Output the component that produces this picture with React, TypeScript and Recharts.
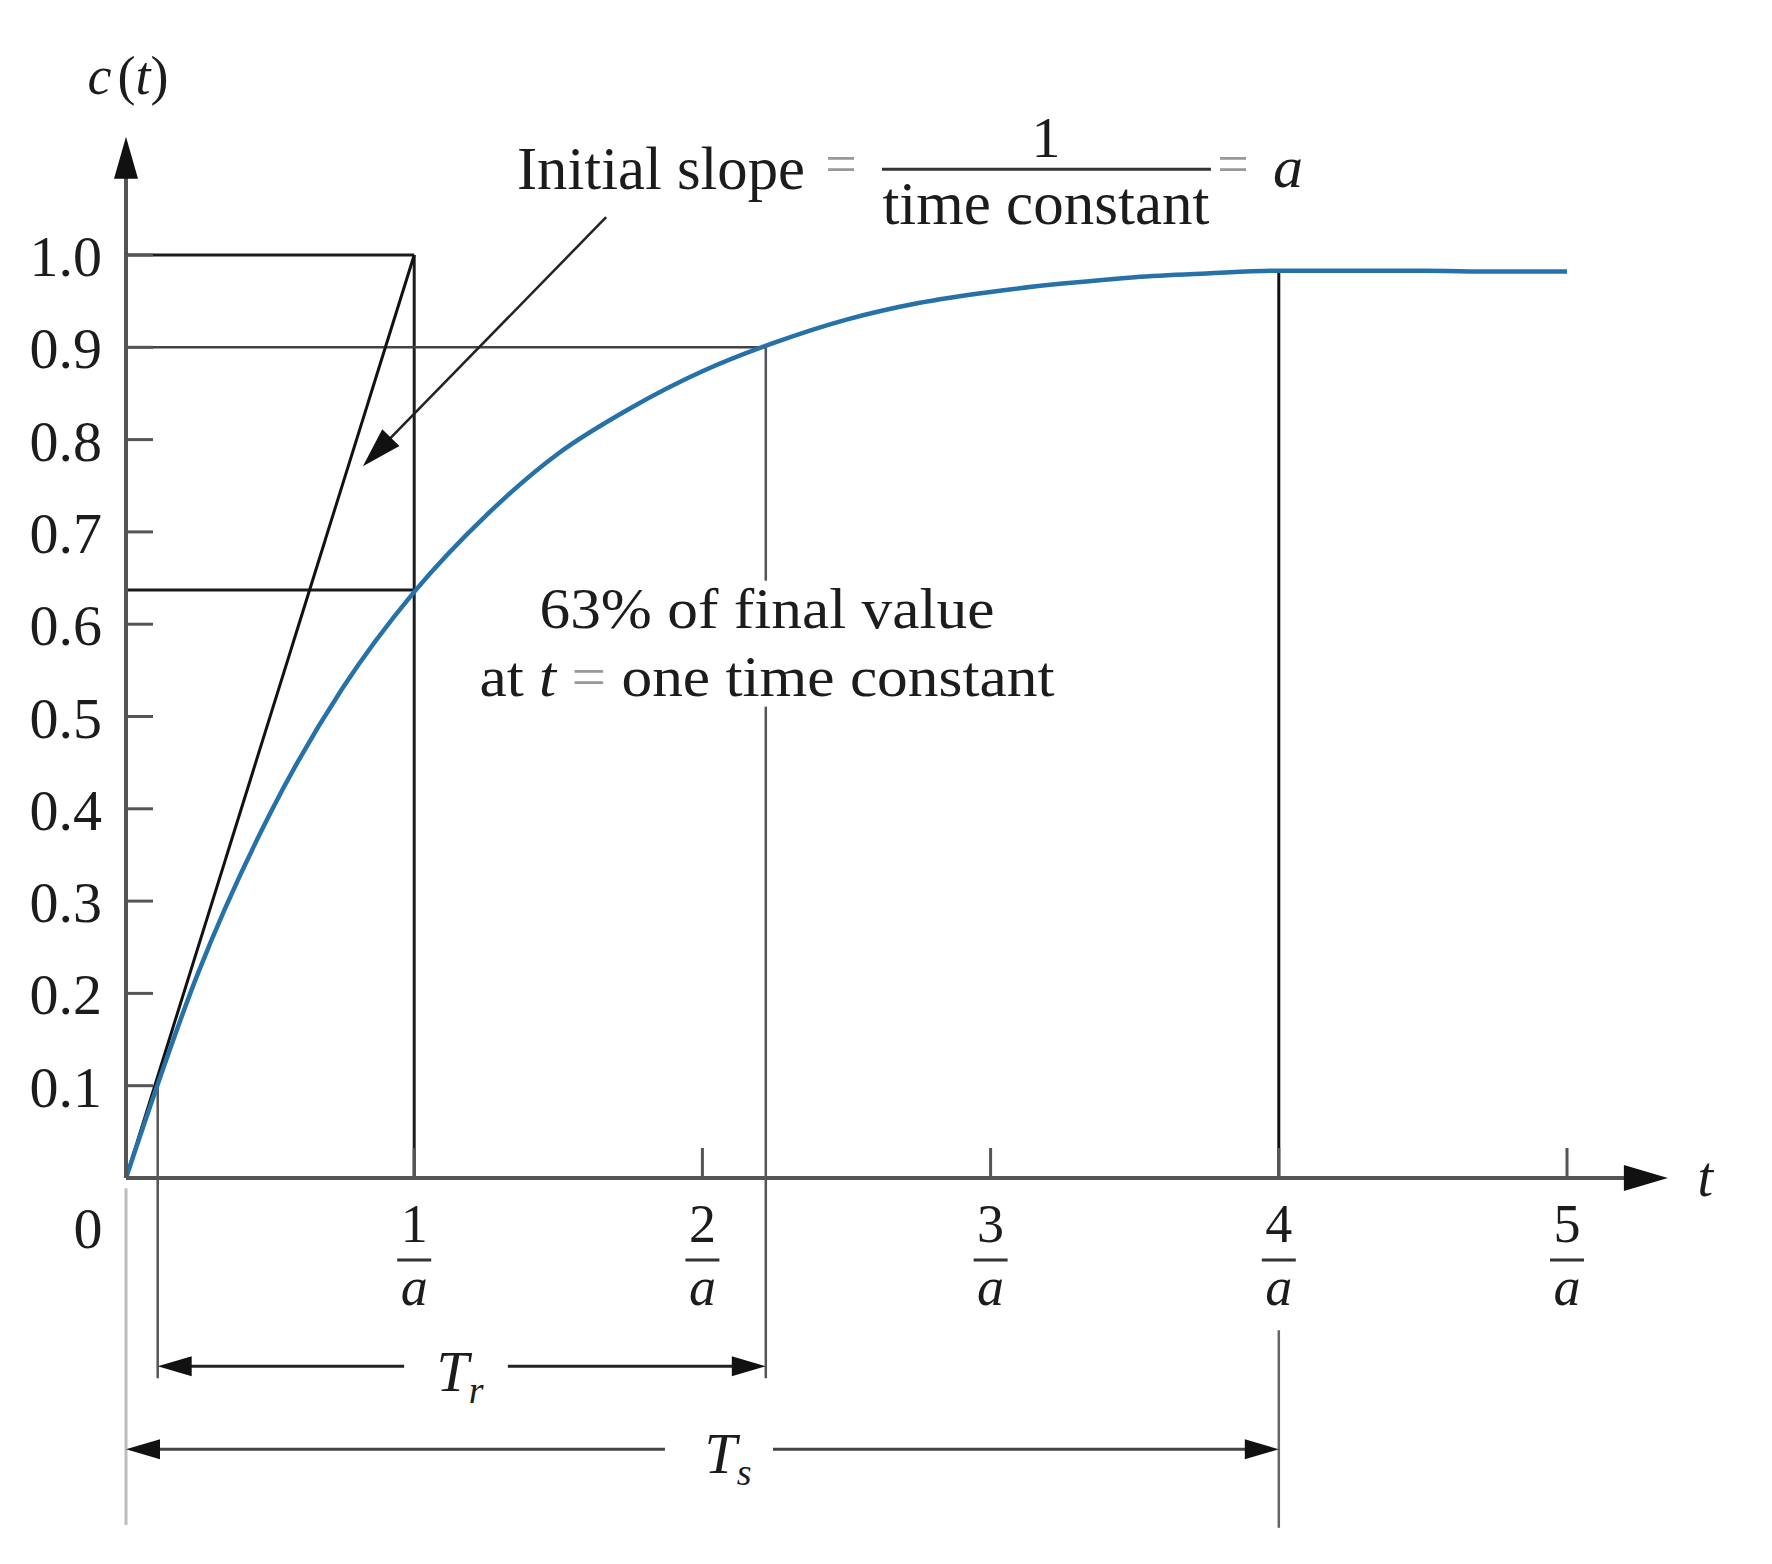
import React from 'react';
import { ComposedChart, Line, XAxis, YAxis, ReferenceLine, ReferenceDot } from 'recharts';

// step response c(t) (t in units of 1/a)
const timeSteps = [0, 0.25, 0.5, 0.75, 1, 1.25, 1.5, 1.75, 2, 2.25, 2.5, 2.75, 3, 3.25, 3.5, 3.75, 4, 4.25, 4.5, 4.75, 5];
const responseValues = [0, 0.222, 0.395, 0.53, 0.635, 0.718, 0.785, 0.834, 0.874, 0.905, 0.93, 0.948, 0.96, 0.969, 0.976, 0.98, 0.983, 0.983, 0.983, 0.982, 0.982];

const yTickValues = [0.1, 0.2, 0.3, 0.4, 0.5, 0.6, 0.7, 0.8, 0.9, 1.0];
const xTickNumerators = [1, 2, 3, 4, 5];

// marked instants and levels
const riseStart = 0.11;
const riseEnd = 2.22;
const timeConstant = 1;
const settleTime = 4;
const level63 = 0.637;
const level90 = 0.9;
const level100 = 1.0;
const settleLevel = 0.983;

const curveData = timeSteps.map((t, i) => ({ t, c: responseValues[i] }));

const SERIF = '"Liberation Serif", "DejaVu Serif", serif';
const INK = '#1c1c1c';
const AXIS = '#555';

type ArrowOpts = { start?: boolean; end?: boolean; len: number; half: number; color: string; width: number };

const arrowLine = ({ start, end, len, half, color, width }: ArrowOpts) => (p: any) => {
  const { x1, y1, x2, y2 } = p;
  const dx = x2 - x1;
  const dy = y2 - y1;
  const L = Math.hypot(dx, dy) || 1;
  const ux = dx / L;
  const uy = dy / L;
  const head = (tx: number, ty: number, dir: number) => {
    const bx = tx - dir * ux * len;
    const by = ty - dir * uy * len;
    return `${tx},${ty} ${bx - uy * half},${by + ux * half} ${bx + uy * half},${by - ux * half}`;
  };
  const sx = start ? x1 + ux * len * 0.6 : x1;
  const sy = start ? y1 + uy * len * 0.6 : y1;
  const ex = end ? x2 - ux * len * 0.6 : x2;
  const ey = end ? y2 - uy * len * 0.6 : y2;
  return (
    <g>
      <line x1={sx} y1={sy} x2={ex} y2={ey} stroke={color} strokeWidth={width} />
      {start && <polygon points={head(x1, y1, -1)} fill="#111" />}
      {end && <polygon points={head(x2, y2, 1)} fill="#111" />}
    </g>
  );
};

const plainLine = (color: string, width: number) => (p: any) => (
  <line x1={p.x1} y1={p.y1} x2={p.x2} y2={p.y2} stroke={color} strokeWidth={width} />
);

const note = (render: (cx: number, cy: number) => React.ReactNode) => (p: any) => <g>{render(p.cx, p.cy)}</g>;

// tick label drawn as a fraction  n / a
const XFractionTick = (p: any) => {
  const { x, y, payload } = p;
  return (
    <g fontFamily={SERIF} fill={INK}>
      <line x1={x} y1={y} x2={x} y2={y - 30} stroke={AXIS} strokeWidth={3} />
      <line x1={x - 17} x2={x + 17} y1={y + 82} y2={y + 82} stroke="#333" strokeWidth={3} />
      <text x={x} y={y + 64} textAnchor="middle" fontSize={54}>{payload.value}</text>
      <text x={x} y={y + 127} textAnchor="middle" fontSize={54} fontStyle="italic">a</text>
    </g>
  );
};

const YValueTick = (p: any) => {
  const { x, y, payload } = p;
  return (
    <g fontFamily={SERIF} fill={INK}>
      <line x1={x} y1={y} x2={x + 27} y2={y} stroke={AXIS} strokeWidth={3} />
      <text x={x - 24} y={y + 21} textAnchor="end" fontSize={58}>{Number(payload.value).toFixed(1)}</text>
    </g>
  );
};

export default function App() {
  return (
    <div style={{ position: 'absolute', left: 0, top: 0, background: '#fff' }}>
      <ComposedChart
        width={1772}
        height={1564}
        data={curveData}
        margin={{ top: 255, right: 205, bottom: 236, left: 26 }}
      >
        <XAxis
          dataKey="t"
          type="number"
          domain={[0, 5]}
          ticks={xTickNumerators}
          interval={0}
          height={150}
          tickSize={0}
          tickMargin={0}
          tick={<XFractionTick />}
          axisLine={{ stroke: AXIS, strokeWidth: 4 }}
        />
        <YAxis
          type="number"
          domain={[0, 1]}
          ticks={yTickValues}
          interval={0}
          width={100}
          tickSize={0}
          tickMargin={0}
          tick={<YValueTick />}
          axisLine={{ stroke: AXIS, strokeWidth: 4 }}
        />

        {/* axis extensions with arrow heads */}
        <ReferenceLine segment={[{ x: 0, y: 1 }, { x: 0, y: 1.128 }]} ifOverflow="visible"
          shape={arrowLine({ end: true, len: 42, half: 12, color: AXIS, width: 4 })} />
        <ReferenceLine segment={[{ x: 5, y: 0 }, { x: 5.35, y: 0 }]} ifOverflow="visible"
          shape={arrowLine({ end: true, len: 44, half: 13, color: AXIS, width: 4 })} />
        <ReferenceLine segment={[{ x: 0, y: -0.011 }, { x: 0, y: -0.376 }]} ifOverflow="visible"
          shape={plainLine('#bdbdbd', 3)} />

        {/* guide lines */}
        <ReferenceLine segment={[{ x: 0, y: level100 }, { x: timeConstant, y: level100 }]} ifOverflow="visible" shape={plainLine(INK, 3)} />
        <ReferenceLine segment={[{ x: timeConstant, y: level100 }, { x: timeConstant, y: 0 }]} ifOverflow="visible" shape={plainLine(INK, 3)} />
        <ReferenceLine segment={[{ x: 0, y: level63 }, { x: timeConstant, y: level63 }]} ifOverflow="visible" shape={plainLine(INK, 3)} />
        <ReferenceLine segment={[{ x: 0, y: level90 }, { x: riseEnd, y: level90 }]} ifOverflow="visible" shape={plainLine('#444', 2.5)} />
        <ReferenceLine segment={[{ x: riseEnd, y: level90 }, { x: riseEnd, y: -0.217 }]} ifOverflow="visible" shape={plainLine('#555', 2.5)} />
        <ReferenceLine segment={[{ x: riseStart, y: 0.1 }, { x: riseStart, y: -0.217 }]} ifOverflow="visible" shape={plainLine('#555', 2.5)} />
        <ReferenceLine segment={[{ x: settleTime, y: settleLevel }, { x: settleTime, y: 0 }]} ifOverflow="visible" shape={plainLine('#111', 3)} />
        <ReferenceLine segment={[{ x: settleTime, y: -0.165 }, { x: settleTime, y: -0.379 }]} ifOverflow="visible" shape={plainLine('#666', 2.5)} />

        {/* initial slope tangent */}
        <ReferenceLine segment={[{ x: 0, y: 0 }, { x: timeConstant, y: level100 }]} ifOverflow="visible" shape={plainLine('#111', 3)} />
        <ReferenceLine segment={[{ x: 1.666, y: 1.041 }, { x: 0.822, y: 0.771 }]} ifOverflow="visible"
          shape={arrowLine({ end: true, len: 40, half: 12, color: '#222', width: 2.5 })} />

        {/* Tr and Ts dimension arrows */}
        <ReferenceLine segment={[{ x: riseStart, y: -0.204 }, { x: 0.965, y: -0.204 }]} ifOverflow="visible"
          shape={arrowLine({ start: true, len: 34, half: 10, color: '#222', width: 3 })} />
        <ReferenceLine segment={[{ x: 1.325, y: -0.204 }, { x: riseEnd, y: -0.204 }]} ifOverflow="visible"
          shape={arrowLine({ end: true, len: 34, half: 10, color: '#222', width: 3 })} />
        <ReferenceLine segment={[{ x: 0, y: -0.294 }, { x: 1.87, y: -0.294 }]} ifOverflow="visible"
          shape={arrowLine({ start: true, len: 34, half: 10, color: '#444', width: 3 })} />
        <ReferenceLine segment={[{ x: 2.245, y: -0.294 }, { x: settleTime, y: -0.294 }]} ifOverflow="visible"
          shape={arrowLine({ end: true, len: 34, half: 10, color: '#444', width: 3 })} />

        <Line
          dataKey="c"
          type="monotone"
          stroke="#2671a8"
          strokeWidth={4.5}
          dot={false}
          activeDot={false}
          isAnimationActive={false}
        />

        {/* text annotations */}
        <ReferenceDot x={0} y={1.194} r={1} ifOverflow="visible" shape={note((cx, cy) => (
          <text x={cx + 2} y={cy + 18} textAnchor="middle" fontFamily={SERIF} fontSize={54} fill={INK}>
            <tspan fontStyle="italic">c</tspan>
            <tspan dx={6}>(</tspan>
            <tspan fontStyle="italic">t</tspan>
            <tspan>)</tspan>
          </text>
        ))} />
        <ReferenceDot x={-0.132} y={-0.053} r={1} ifOverflow="visible" shape={note((cx, cy) => (
          <text x={cx} y={cy + 21} textAnchor="middle" fontFamily={SERIF} fontSize={58} fill={INK}>0</text>
        ))} />
        <ReferenceDot x={5.48} y={0} r={1} ifOverflow="visible" shape={note((cx, cy) => (
          <text x={cx} y={cy + 18} textAnchor="middle" fontFamily={SERIF} fontSize={56} fontStyle="italic" fill={INK}>t</text>
        ))} />

        <ReferenceDot x={3.192} y={1.093} r={1} ifOverflow="visible" shape={note((cx, cy) => (
          <g fontFamily={SERIF} fill={INK}>
            <text x={cx - 241} y={cy + 20} textAnchor="end" fontSize={62} textLength={288} lengthAdjust="spacingAndGlyphs">Initial slope</text>
            <text x={cx - 205} y={cy + 14} textAnchor="middle" fontSize={56} fill="#999">=</text>
            <text x={cx} y={cy - 12} textAnchor="middle" fontSize={58}>1</text>
            <line x1={cx - 164} x2={cx + 165} y1={cy} y2={cy} stroke="#333" strokeWidth={3} />
            <text x={cx} y={cy + 55} textAnchor="middle" fontSize={62} textLength={327} lengthAdjust="spacingAndGlyphs">time constant</text>
            <text x={cx + 187} y={cy + 14} textAnchor="middle" fontSize={56} fill="#999">=</text>
            <text x={cx + 242} y={cy + 18} textAnchor="middle" fontSize={60} fontStyle="italic">a</text>
          </g>
        ))} />

        <ReferenceDot x={2.224} y={0.58} r={1} ifOverflow="visible" shape={note((cx, cy) => (
          <g fontFamily={SERIF} fill={INK}>
            <rect x={cx - 292} y={cy - 62} width={584} height={126} fill="#fff" />
            <text x={cx} y={cy - 15} textAnchor="middle" fontSize={58} textLength={455} lengthAdjust="spacingAndGlyphs">63% of final value</text>
            <text x={cx} y={cy + 53} textAnchor="middle" fontSize={58} textLength={575} lengthAdjust="spacingAndGlyphs">
              <tspan>at </tspan>
              <tspan fontStyle="italic">t</tspan>
              <tspan fill="#999"> = </tspan>
              <tspan>one time constant</tspan>
            </text>
          </g>
        ))} />

        <ReferenceDot x={1.159} y={-0.213} r={1} ifOverflow="visible" shape={note((cx, cy) => (
          <text x={cx} y={cy + 16} textAnchor="middle" fontFamily={SERIF} fontSize={58} fontStyle="italic" fill={INK}>
            <tspan>T</tspan>
            <tspan fontSize={38} dy={12}>r</tspan>
          </text>
        ))} />
        <ReferenceDot x={2.089} y={-0.309} r={1} ifOverflow="visible" shape={note((cx, cy) => (
          <text x={cx} y={cy + 10} textAnchor="middle" fontFamily={SERIF} fontSize={58} fontStyle="italic" fill={INK}>
            <tspan>T</tspan>
            <tspan fontSize={38} dy={12}>s</tspan>
          </text>
        ))} />
      </ComposedChart>
    </div>
  );
}
